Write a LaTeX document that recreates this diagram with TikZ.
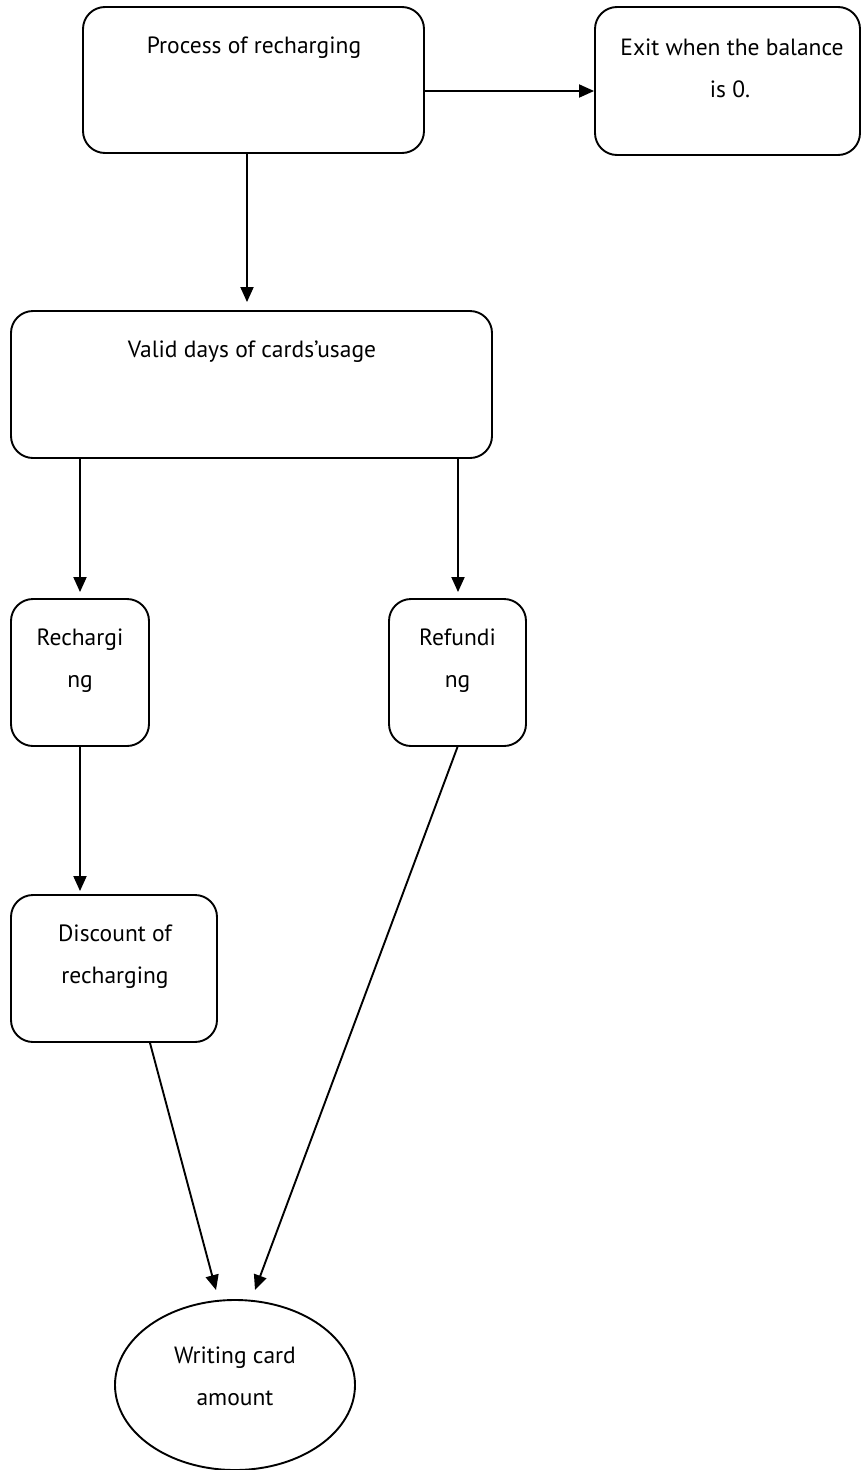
\documentclass[tikz,border=0pt]{standalone}
\usepackage{fontspec}
\setmainfont{PT Sans}
\usetikzlibrary{arrows.meta,shapes.geometric}
\begin{document}
\begin{tikzpicture}[x=1pt,y=-1pt,
  box/.style={draw,line width=1.9pt,rounded corners=22pt,inner sep=0pt},
  oval/.style={draw,line width=1.9pt,ellipse,inner sep=0pt},
  lbl/.style={font=\fontsize{23.5}{42}\selectfont,inner sep=0pt,anchor=base},
  arr/.style={line width=1.9pt,-{Triangle[length=15pt,width=13pt]}}]
\useasboundingbox (0,0) rectangle (862,1470);
% boxes
\node[box,minimum width=341pt,minimum height=146pt] (p) at (253.5,80) {};
\node[box,minimum width=265pt,minimum height=148pt] (e) at (727.5,81) {};
\node[box,minimum width=481pt,minimum height=147pt] (v) at (251.5,384.5) {};
\node[box,minimum width=138pt,minimum height=147pt] (rc) at (80,672.5) {};
\node[box,minimum width=137pt,minimum height=147pt] (rf) at (457.5,672.5) {};
\node[box,minimum width=206pt,minimum height=147pt] (d) at (114,968.5) {};
\node[oval,minimum width=240pt,minimum height=170pt] (w) at (235,1385) {};
% labels
\node[lbl] (pl) at (254,53) {Process of recharging};
\node[lbl] (el1) at (732,55) {Exit when the balance};
\node[lbl] (el2) at (730,97) {is 0.};
\node[lbl] (vl) at (252,357) {Valid days of cards'usage};
\node[lbl] (rcl1) at (80,645) {Rechargi};
\node[lbl] (rcl2) at (80,687) {ng};
\node[lbl] (rfl1) at (457.5,645) {Refundi};
\node[lbl] (rfl2) at (457.5,687) {ng};
\node[lbl] (dl1) at (115,941) {Discount of};
\node[lbl] (dl2) at (115,983) {recharging};
\node[lbl] (wl1) at (235,1363) {Writing card};
\node[lbl] (wl2) at (235,1405) {amount};
% connectors
\draw[arr] ([yshift=-11pt]p.east) -- ([yshift=-11pt]p.east -| e.west);
\draw[arr,shorten >=8pt] ([xshift=-6.5pt]p.south) -- ([xshift=-6.5pt]p.south |- v.north);
\draw[arr,shorten >=6pt] ([xshift=-171.5pt]v.south) -- (rc.north);
\draw[arr,shorten >=6pt] ([xshift=206.5pt]v.south) -- ([xshift=0.5pt]rf.north);
\draw[arr,shorten >=3pt] (rc.south) -- ([xshift=-34pt]d.north);
\coordinate (w1) at (216,1290);
\coordinate (w2) at (255,1290);
\draw[arr] ([xshift=36pt]d.south) -- (w1);
\draw[arr] (rf.south) -- (w2);
\end{tikzpicture}
\end{document}
